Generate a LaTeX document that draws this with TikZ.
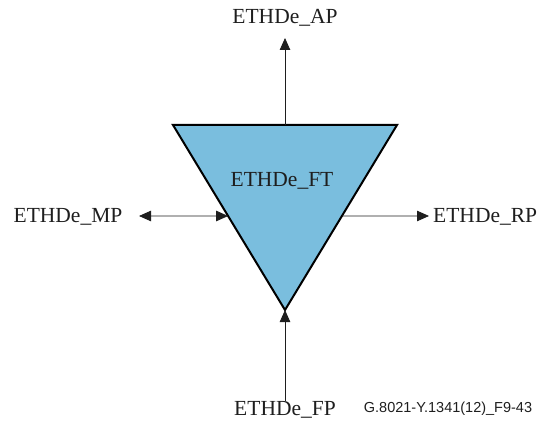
\documentclass[tikz,border=0pt]{standalone}
\usepackage{fontspec}
\setmainfont{Liberation Serif}
\newfontfamily\figsans{Liberation Sans}
\usetikzlibrary{arrows.meta,positioning,calc}
\definecolor{ink}{RGB}{30,30,30}
\definecolor{ftblue}{RGB}{122,190,222}

\begin{document}
\begin{tikzpicture}[x=1pt,y=1pt,
    pointlabel/.style={text=ink,inner sep=0pt,font=\fontsize{21.5}{24}\selectfont},
    flow/.style={draw=ink,line width=0.8pt,-{Triangle[length=12pt,width=10.5pt]}},
    bothflow/.style={flow,{Triangle[length=12pt,width=10.5pt]}-{Triangle[length=12pt,width=10.5pt]}}]
  \useasboundingbox (0,0) rectangle (540,423);
  % the flow termination
  \coordinate (ftTL) at (173,298);
  \coordinate (ftTR) at (397,298);
  \coordinate (ftB) at (285,113);
  \draw[fill=ftblue,draw=black,line width=2pt,line join=miter]
    (ftTL) -- (ftTR) -- (ftB) -- cycle;
  \node[pointlabel] (ft) at (282,242) {ETHDe\_FT};
  % access points
  \node[pointlabel] (ap) at (285,405) {ETHDe\_AP};
  \node[pointlabel] (mp) at (68,206) {ETHDe\_MP};
  \node[pointlabel,anchor=west] (rp) at (433,206) {ETHDe\_RP};
  \node[pointlabel] (fp) at (285,13) {ETHDe\_FP};
  \coordinate (apEnd) at (285,385);
  \coordinate (mpEnd) at (139,207);
  \coordinate (rpEnd) at (429,207);
  \coordinate (fpEnd) at (285,22);
  \draw[flow] ($(ftTL)!0.5!(ftTR)$) -- (apEnd);
  \draw[bothflow] (mpEnd) -- ($(ftTL)!0.4919!(ftB)$);
  \draw[flow] ($(ftTR)!0.4919!(ftB)$) -- (rpEnd);
  \draw[flow] (fpEnd) -- (ftB);
  \node[text=ink,inner sep=0pt,font=\figsans\fontsize{14.5}{16}\selectfont]
    (figid) at (448,14) {G.8021-Y.1341(12)\_F9-43};
\end{tikzpicture}
\end{document}
